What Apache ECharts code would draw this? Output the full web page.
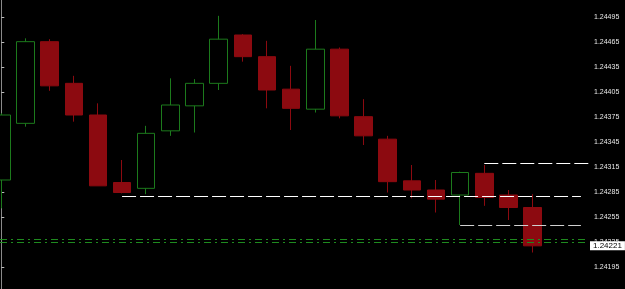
<!DOCTYPE html>
<html lang="en">
  <head>
    <meta charset="utf-8" />
    <title>EURUSD candles</title>
    <style>
      * {
        margin: 0;
        padding: 0;
      }
      #chart-container {
        position: relative;
        height: 100vh;
        width: 100vw;
        overflow: hidden;
        background: #000;
      }
    </style>
  </head>
  <body>
    <div id="chart-container"></div>
    <script src="https://fastly.jsdelivr.net/npm/echarts@6/dist/echarts.min.js"></script>
    <script>
      // bar data
      var opens = [1.243, 1.24368, 1.24466, 1.24416, 1.24378, 1.24297, 1.2429, 1.24359, 1.24389, 1.24416, 1.24474, 1.24448,
        1.24409, 1.24385, 1.24457, 1.24376, 1.24349, 1.24299, 1.24288, 1.24282, 1.24308, 1.24282, 1.24267];
      var closes = [1.24378, 1.24466, 1.24413, 1.24378, 1.24293, 1.24285, 1.24356, 1.2439, 1.24416, 1.24469, 1.24448, 1.24408,
        1.24386, 1.24457, 1.24377, 1.24353, 1.24298, 1.24288, 1.24277, 1.24309, 1.24279, 1.24267, 1.24221];
      var lows = [1.24266, 1.24364, 1.24407, 1.2437, 1.24293, 1.24284, 1.24283, 1.24353, 1.24357, 1.24408, 1.24442, 1.24386,
        1.2436, 1.24381, 1.24374, 1.24342, 1.24285, 1.24278, 1.24261, 1.24246, 1.24269, 1.24252, 1.24213];
      var highs = [1.2438, 1.2447, 1.24469, 1.24425, 1.24392, 1.24324, 1.24365, 1.24422, 1.24421, 1.24497, 1.24475, 1.24467,
        1.24437, 1.24492, 1.24459, 1.24397, 1.24353, 1.24318, 1.243, 1.2431, 1.24318, 1.24288, 1.24283];

      var priceTicks = [1.24195, 1.24225, 1.24255, 1.24285, 1.24315, 1.24345, 1.24375, 1.24405, 1.24435, 1.24465, 1.24495];

      // dashed levels: [price, fromBar, toBar]
      var levelA = [1.2428, 5, 24];
      var levelB = [1.2432, 20, null];
      var levelC = [1.24246, 19, 24];
      var greenLines = [1.24229, 1.24225];
      var lastPrice = 1.24221;

      var xMin = -0.054;
      var xMax = 24.335;

      var bars = opens.map(function (o, i) {
        return [i, o, closes[i], lows[i], highs[i]];
      });

      var dom = document.getElementById("chart-container");
      var myChart = echarts.init(dom, null, { renderer: "canvas" });

      var dashWhite = { color: "#fff", width: 1, type: [14, 4] };
      var dashDot = { color: "#1f8a1f", width: 1, type: [7, 4, 2, 4] };

      function hline(price, from, to, style) {
        return [
          { coord: [from, price], lineStyle: style },
          { coord: [to, price] },
        ];
      }

      // invisible line, only its end label is wanted
      var priceLine = hline(lastPrice, xMin, xMax, { color: "rgba(0,0,0,0)", width: 0 });
      priceLine[0].label = {
        show: true,
        position: "end",
        distance: 1,
        color: "#000",
        backgroundColor: "#fff",
        padding: [1, 3, 0, 3],
        fontSize: 8,
        fontFamily: "Liberation Sans",
        formatter: function () {
          return lastPrice.toFixed(5);
        },
      };

      var option = {
        backgroundColor: "#000",
        animation: false,
        grid: { left: 0, right: 36, top: 0, bottom: 0 },
        xAxis: {
          type: "value",
          min: xMin,
          max: xMax,
          show: false,
        },
        yAxis: {
          type: "value",
          position: "right",
          min: 1.241692,
          max: 1.24516,
          scale: true,
          splitLine: { show: false },
          axisLine: { show: true, lineStyle: { color: "#8a8a8a", width: 1 } },
          axisTick: {
            show: true,
            length: 3,
            customValues: priceTicks,
            lineStyle: { color: "#bbb" },
          },
          axisLabel: {
            customValues: priceTicks,
            color: "#e8e8e8",
            fontSize: 7,
            fontFamily: "Liberation Sans",
            margin: 5,
            formatter: function (v) {
              return v.toFixed(5);
            },
          },
        },
        series: [
          {
            type: "candlestick",
            data: bars,
            encode: { x: 0, y: [1, 2, 3, 4] },
            barWidth: 18,
            itemStyle: {
              color: "#000",
              borderColor: "#1c7a1c",
              color0: "#8c0a10",
              borderColor0: "#8c0a10",
              borderWidth: 1,
            },
            markLine: {
              symbol: "none",
              silent: true,
              clip: false,
              label: { show: false },
              data: [
                hline(levelA[0], levelA[1], levelA[2], dashWhite),
                hline(levelB[0], levelB[1], xMax, dashWhite),
                hline(levelC[0], levelC[1], levelC[2], { color: "#d0d0d0", width: 1, type: [14, 4] }),
                hline(greenLines[0], xMin, xMax, dashDot),
                hline(greenLines[1], xMin, xMax, dashDot),
                priceLine,
              ],
            },
          },
        ],
      };

      myChart.setOption(option);
      window.addEventListener("resize", myChart.resize);
    </script>
  </body>
</html>
